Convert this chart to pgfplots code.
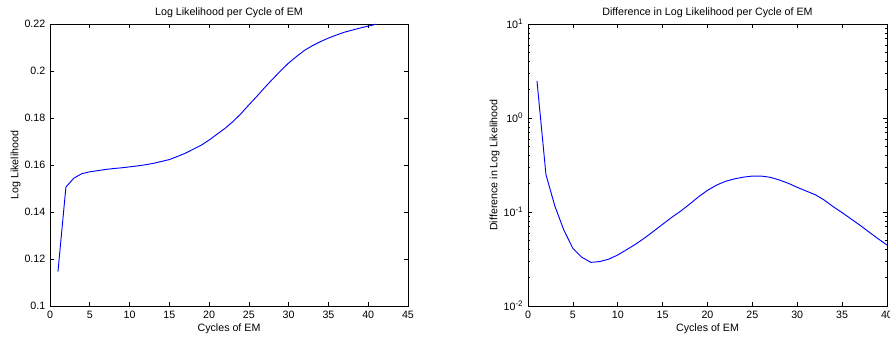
\documentclass[border=0pt]{standalone}
\usepackage{fontspec}
\setmainfont{Liberation Sans}
\usepackage{pgfplots}
\pgfplotsset{compat=1.18}
\pgfplotsset{
  every axis title/.style={at={(axis description cs:0.5,1.0303)}, anchor=base, font=\fontsize{8}{9}\selectfont},
  matstyle/.style={
    scale only axis,
    tick align=inside,
    major tick length=3pt,
    minor tick length=1.6pt,
    axis line style={black, line width=0.5pt},
    every tick/.style={black, line width=0.5pt},
    tick label style={font=\fontsize{8}{9}\selectfont, text=black},
    /pgf/number format/assume math mode=true,
    /pgf/number format/fixed,
    scaled ticks=false,
    xlabel style={font=\fontsize{8}{9}\selectfont, anchor=base, at={(axis description cs:0.5,-0.0922)}},
    ylabel style={font=\fontsize{8}{9}\selectfont, anchor=base, rotate=0},
  }
}
\begin{document}
\begin{tikzpicture}
\useasboundingbox (0,0) rectangle (667.5pt,255.75pt);
\begin{axis}[matstyle,
  at={(37.5pt,26.25pt)}, anchor=south west,
  width=268.5pt, height=211.5pt,
  xmin=0, xmax=45, ymin=0.1, ymax=0.22,
  xtick={0,5,...,45},
  ytick={0.1,0.12,0.14,0.16,0.18,0.2,0.22},
  title={Log Likelihood per Cycle of EM},
  xlabel={Cycles of EM},
  ylabel={Log Likelihood},
  ylabel style={at={(axis description cs:-0.0886,0.5)}},
]
\addplot[blue, line width=0.7pt] coordinates {
(1,0.1146) (2,0.1506) (3,0.1544) (4,0.1563) (5,0.1571) (6,0.1576) (7,0.1581)
(8,0.1585) (9,0.1588) (10,0.1592) (11,0.1596) (12,0.1601) (13,0.1607) (14,0.1615)
(15,0.1623) (16,0.1636) (17,0.1650) (18,0.1667) (19,0.1684) (20,0.1706)
(21,0.1731) (22,0.1756) (23,0.1785) (24,0.1818) (25,0.1856) (26,0.1892)
(27,0.1930) (28,0.1966) (29,0.2001) (30,0.2034) (31,0.2062) (32,0.2088)
(33,0.2108) (34,0.2125) (35,0.2140) (36,0.2153) (37,0.2165) (38,0.2174)
(39,0.2183) (40,0.2191) (41,0.2199)
};
\end{axis}
\begin{axis}[matstyle,
  at={(396pt,26.25pt)}, anchor=south west,
  width=269.25pt, height=211.5pt,
  ymode=log,
  xmin=0, xmax=40, ymin=0.01, ymax=10,
  xtick={0,5,...,40},
  ytick={0.01,0.1,1,10},
  yticklabels={10\textsuperscript{-2},10\textsuperscript{-1},10\textsuperscript{0},10\textsuperscript{1}},
  title={Difference in Log Likelihood per Cycle of EM},
  xlabel={Cycles of EM},
  ylabel={Difference in Log Likelihood},
  ylabel style={at={(axis description cs:-0.0854,0.5)}},
]
\addplot[blue, line width=0.7pt] coordinates {
(1,2.48) (2,0.250) (3,0.115) (4,0.0640) (5,0.0410) (6,0.0330) (7,0.0291)
(8,0.0297) (9,0.0315) (10,0.0349) (11,0.0398) (12,0.0455) (13,0.0530)
(14,0.0625) (15,0.0740) (16,0.0875) (17,0.102) (18,0.121) (19,0.145)
(20,0.170) (21,0.193) (22,0.212) (23,0.225) (24,0.235) (25,0.241) (26,0.241)
(27,0.234) (28,0.219) (29,0.202) (30,0.183) (31,0.167) (32,0.153) (33,0.134)
(34,0.114) (35,0.0985) (36,0.0843) (37,0.0722) (38,0.0612) (39,0.0520) (40,0.0446)
};
\end{axis}
\end{tikzpicture}
\end{document}
